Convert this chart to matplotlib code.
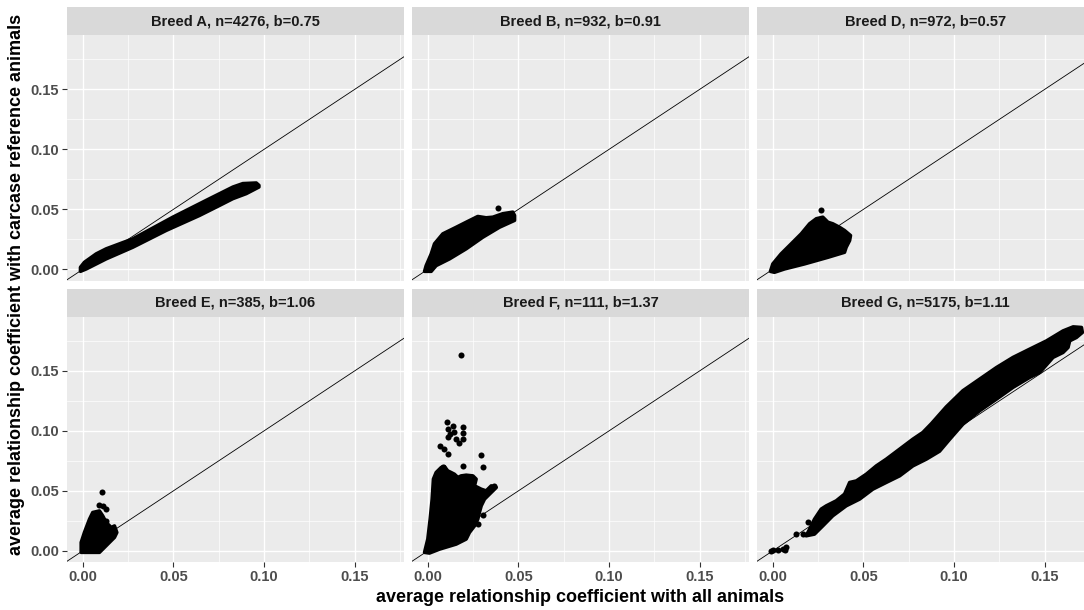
import numpy as np
import matplotlib
matplotlib.use("Agg")
import matplotlib.pyplot as plt

plt.rcParams['font.family'] = ['Liberation Sans', 'DejaVu Sans']

# facet titles
breeds = ["Breed A, n=4276, b=0.75", "Breed B, n=932, b=0.91", "Breed D, n=972, b=0.57",
          "Breed E, n=385, b=1.06", "Breed F, n=111, b=1.37", "Breed G, n=5175, b=1.11"]

# outline of the dense point cloud, plus stray points
a_cloud_x = [-0.0013, 0.0009, 0.0074, 0.0129, 0.0276, 0.0497, 0.0681, 0.0828, 0.0883, 0.0957, 0.0972,
             0.0972, 0.0902, 0.0828, 0.0755, 0.0644, 0.0460, 0.0276, 0.0129, 0.0019, -0.0013]
a_cloud_y = [0.0017, 0.0059, 0.0129, 0.0171, 0.0254, 0.0435, 0.0575, 0.0686, 0.0715, 0.0720, 0.0700,
             0.0686, 0.0631, 0.0589, 0.0533, 0.0449, 0.0324, 0.0184, 0.0087, 0.0003, -0.0017]
a_pts_x = []
a_pts_y = []

b_cloud_x = [-0.0018, -0.0009, 0.0019, 0.0037, 0.0083, 0.0157, 0.0212, 0.0276, 0.0322, 0.0359, 0.0414,
             0.0469, 0.0479, 0.0479, 0.0396, 0.0304, 0.0212, 0.0120, 0.0046, 0.0019]
b_cloud_y = [-0.0017, 0.0031, 0.0129, 0.0213, 0.0296, 0.0351, 0.0393, 0.0441, 0.0430, 0.0435, 0.0464,
             0.0477, 0.0449, 0.0408, 0.0351, 0.0268, 0.0171, 0.0087, 0.0031, -0.0017]
b_pts_x = [0.0387]
b_pts_y = [0.0514]

d_cloud_x = [-0.0013, 0.0000, 0.0046, 0.0102, 0.0157, 0.0203, 0.0240, 0.0276, 0.0304, 0.0331, 0.0368,
             0.0396, 0.0429, 0.0424, 0.0405, 0.0396, 0.0304, 0.0175, 0.0065, 0.0009]
d_cloud_y = [-0.0017, 0.0045, 0.0129, 0.0213, 0.0296, 0.0380, 0.0422, 0.0435, 0.0393, 0.0380, 0.0351,
             0.0324, 0.0282, 0.0240, 0.0184, 0.0142, 0.0100, 0.0045, 0.0003, -0.0025]
d_pts_x = [0.0267]
d_pts_y = [0.0491]

e_cloud_x = [-0.0009, -0.0009, 0.0009, 0.0037, 0.0055, 0.0092, 0.0110, 0.0129, 0.0157, 0.0175, 0.0188,
             0.0175, 0.0147, 0.0110, 0.0092]
e_cloud_y = [-0.0013, 0.0070, 0.0153, 0.0264, 0.0320, 0.0333, 0.0292, 0.0237, 0.0195, 0.0208, 0.0153,
             0.0112, 0.0070, 0.0014, -0.0013]
e_pts_x = [0.0105, 0.0092, 0.0110, 0.0129, 0.0129]
e_pts_y = [0.0492, 0.0381, 0.0370, 0.0348, 0.0250]

f_cloud_x = [-0.0018, 0.0000, 0.0013, 0.0024, 0.0031, 0.0046, 0.0074, 0.0092, 0.0110, 0.0129, 0.0147,
             0.0166, 0.0184, 0.0212, 0.0249, 0.0267, 0.0258, 0.0295, 0.0322, 0.0350, 0.0378, 0.0341,
             0.0313, 0.0295, 0.0285, 0.0276, 0.0258, 0.0230, 0.0212, 0.0157, 0.0065, 0.0009]
f_cloud_y = [-0.0013, 0.0098, 0.0264, 0.0431, 0.0598, 0.0653, 0.0695, 0.0703, 0.0667, 0.0653, 0.0639,
             0.0612, 0.0625, 0.0631, 0.0625, 0.0598, 0.0542, 0.0514, 0.0500, 0.0542, 0.0528, 0.0473,
             0.0431, 0.0375, 0.0320, 0.0264, 0.0208, 0.0153, 0.0098, 0.0056, 0.0014, -0.0019]
f_pts_x = [0.0184, 0.0068, 0.0092, 0.0110, 0.0105, 0.0110, 0.0110, 0.0124, 0.0138, 0.0147, 0.0157,
           0.0175, 0.0193, 0.0193, 0.0193, 0.0295, 0.0304, 0.0193, 0.0083, 0.0363, 0.0304, 0.0276]
f_pts_y = [0.1633, 0.0875, 0.0848, 0.0806, 0.1070, 0.1014, 0.0945, 0.0973, 0.1042, 0.0987, 0.0931,
           0.0898, 0.1036, 0.0981, 0.0931, 0.0798, 0.0698, 0.0709, 0.0695, 0.0537, 0.0298, 0.0223]

g_cloud_x = [0.0184, 0.0203, 0.0230, 0.0267, 0.0295, 0.0350, 0.0396, 0.0424, 0.0461, 0.0516, 0.0571,
             0.0626, 0.0700, 0.0773, 0.0828, 0.0875, 0.0957, 0.1049, 0.1141, 0.1234, 0.1325, 0.1417,
             0.1510, 0.1601, 0.1657, 0.1703, 0.1708, 0.1675, 0.1638, 0.1629, 0.1601, 0.1546, 0.1473,
             0.1417, 0.1325, 0.1234, 0.1141, 0.1049, 0.0976, 0.0920, 0.0847, 0.0773, 0.0700, 0.0626,
             0.0552, 0.0479, 0.0405, 0.0331, 0.0276, 0.0230]
g_cloud_y = [0.0125, 0.0181, 0.0264, 0.0348, 0.0375, 0.0417, 0.0473, 0.0570, 0.0583, 0.0639, 0.0708,
             0.0764, 0.0848, 0.0931, 0.0987, 0.1060, 0.1200, 0.1335, 0.1431, 0.1528, 0.1612, 0.1681,
             0.1750, 0.1833, 0.1867, 0.1862, 0.1820, 0.1778, 0.1750, 0.1695, 0.1653, 0.1612, 0.1487,
             0.1445, 0.1362, 0.1264, 0.1167, 0.1056, 0.0930, 0.0830, 0.0764, 0.0708, 0.0625, 0.0570,
             0.0514, 0.0431, 0.0375, 0.0292, 0.0208, 0.0139]
g_pts_x = [-0.0009, 0.0000, 0.0028, 0.0055, 0.0065, 0.0074, 0.0129, 0.0166, 0.0193]
g_pts_y = [0.0000, 0.0008, 0.0006, 0.0014, 0.0010, 0.0036, 0.0139, 0.0139, 0.0237]

clouds = [(a_cloud_x, a_cloud_y, a_pts_x, a_pts_y), (b_cloud_x, b_cloud_y, b_pts_x, b_pts_y),
          (d_cloud_x, d_cloud_y, d_pts_x, d_pts_y), (e_cloud_x, e_cloud_y, e_pts_x, e_pts_y),
          (f_cloud_x, f_cloud_y, f_pts_x, f_pts_y), (g_cloud_x, g_cloud_y, g_pts_x, g_pts_y)]

ticks = [0.00, 0.05, 0.10, 0.15]
tick_labels = ["0.00", "0.05", "0.10", "0.15"]

W, H = 1084, 610
fig = plt.figure(figsize=(W / 100, H / 100), dpi=100)

col_left = [67, 412, 757]
panel_w = 337
row_top = [35, 316.5]
panel_h = 245.5
strip_h = 28

xlim = (-0.0087, 0.1772)
ylim = (-0.0093, 0.1953)

for i in range(6):
    r, c = divmod(i, 3)
    x0 = col_left[c]
    y0 = row_top[r]
    ax = fig.add_axes([x0 / W, 1 - (y0 + panel_h) / H, panel_w / W, panel_h / H])
    ax.set_facecolor('#EBEBEB')
    for s in ax.spines.values():
        s.set_visible(False)
    ax.set_xlim(xlim)
    ax.set_ylim(ylim)
    ax.set_xticks(ticks)
    ax.set_yticks(ticks)
    ax.set_xticks([0.025, 0.075, 0.125, 0.175], minor=True)
    ax.set_yticks([0.025, 0.075, 0.125, 0.175], minor=True)
    ax.grid(which='major', color='white', lw=1.0)
    ax.grid(which='minor', color='white', lw=0.5)
    ax.set_axisbelow(True)
    ax.tick_params(which='minor', length=0)
    ax.tick_params(which='major', length=3.5, width=0.8, color='#333333',
                   labelsize=10.5, labelcolor='#4D4D4D', pad=2)
    if r == 1:
        ax.set_xticklabels(tick_labels, fontweight='bold')
    else:
        ax.set_xticklabels([])
        ax.tick_params(axis='x', length=0)
    if c == 0:
        ax.set_yticklabels(tick_labels, fontweight='bold')
    else:
        ax.set_yticklabels([])
        ax.tick_params(axis='y', length=0)

    # y = x reference line
    ax.plot([xlim[0], xlim[1]], [xlim[0], xlim[1]], color='black', lw=0.6, zorder=2)

    cx, cy, px, py = clouds[i]
    ax.fill(cx, cy, color='black', lw=2.5, joinstyle='round', zorder=3)
    if px:
        ax.scatter(px, py, s=19, color='black', lw=0, zorder=3)

    # facet strip
    sax = fig.add_axes([x0 / W, 1 - y0 / H, panel_w / W, strip_h / H])
    sax.set_facecolor('#D9D9D9')
    sax.set_xticks([])
    sax.set_yticks([])
    for s in sax.spines.values():
        s.set_visible(False)
    sax.text(0.5, 0.5, breeds[i], ha='center', va='center', fontsize=10.5,
             fontweight='bold', color='#1A1A1A', transform=sax.transAxes)

fig.text(580 / W, 1 - 597 / H, "average relationship coefficient with all animals",
         ha='center', va='center', fontsize=13, fontweight='bold', color='black')
fig.text(17 / W, 1 - 284 / H, "average relationship coefficient with carcase reference animals",
         ha='center', va='center', rotation=90, fontsize=13, fontweight='bold', color='black')

fig.savefig("out.png", dpi=100)
